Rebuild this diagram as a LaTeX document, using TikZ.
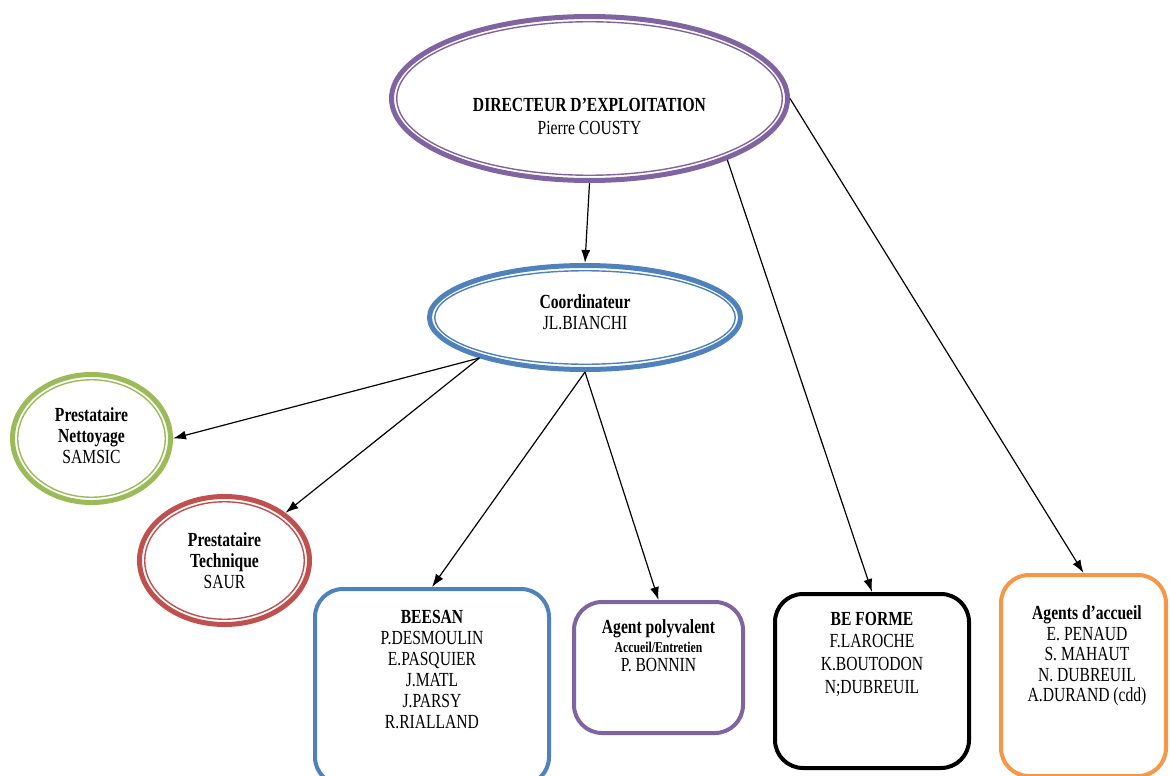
\documentclass[tikz,border=0pt]{standalone}
\usepackage{fontspec}
\setmainfont{Liberation Serif}[FakeStretch=0.78]
\usepackage{tikz}
\usetikzlibrary{arrows.meta, shapes.geometric}
\definecolor{orgpurple}{HTML}{8064A2}
\definecolor{orgblue}{HTML}{4F81BD}
\definecolor{orggreen}{HTML}{9BBB59}
\definecolor{orgred}{HTML}{C0504D}
\definecolor{orgorange}{HTML}{F79646}
\tikzset{
  oval/.style={ellipse, draw=#1, line width=5pt, inner sep=0pt},
  ovalin/.style={draw=#1, line width=1.4pt},
  team/.style={rectangle, rounded corners=28pt, draw=#1, line width=4pt, inner sep=0pt},
  txt/.style={align=center, inner sep=0pt, font=\fontsize{20}{21}\selectfont},
  link/.style={-{Latex[length=13pt,width=9pt]}, line width=1.2pt},
}

\begin{document}
\begin{tikzpicture}[x=1pt,y=-1pt]
\clip (0,0) rectangle (1170,776);
\fill[white] (0,0) rectangle (1170,776);
%\tikzstyle{ring}=[ellipse,double,draw=black]
\begin{scope}
    \node[oval=orgpurple, minimum width=396pt, minimum height=164pt] (dir) at (589.5,98.5) {};
    \node[oval=orgblue, minimum width=311pt, minimum height=104pt] (coord) at (585,317.5) {};
    \node[oval=orggreen, minimum width=158pt, minimum height=128pt] (net) at (91.5,438.5) {};
    \node[oval=orgred, minimum width=170pt, minimum height=128pt] (tec) at (224.5,560.5) {};
\end{scope}
\foreach \n/\c/\rx/\ry in {dir/orgpurple/192.75/76.75, coord/orgblue/150.25/46.75,
    net/orggreen/73.75/58.75, tec/orgred/79.75/58.75}
    \draw[ovalin=\c] (\n.center) ellipse [x radius=\rx pt, y radius=\ry pt];

\node[txt, font=\fontsize{20}{23}\selectfont] (dirtxt) at (589.5,116.5)
    {\textbf{DIRECTEUR D’EXPLOITATION}\\ Pierre COUSTY};
\node[txt] (coordtxt) at (585,312.5) {\textbf{Coordinateur}\\ JL.BIANCHI};
\node[txt] (nettxt) at (91.5,435.5) {\textbf{Prestataire}\\ \textbf{Nettoyage}\\ SAMSIC};
\node[txt] (tectxt) at (224.5,560.5) {\textbf{Prestataire}\\ \textbf{Technique}\\ SAUR};

\node[team=orgblue, minimum width=234pt, minimum height=196pt] (bee) at (432,687) {};
\node[team=orgpurple, minimum width=169pt, minimum height=131pt] (apv) at (658.5,667.5) {};
\node[team=black, minimum width=194pt, minimum height=174pt] (bef) at (872,681) {};
\node[team=orgorange, minimum width=165pt, minimum height=201pt] (ag) at (1083.5,675.5) {};

\node[txt] (beetxt) at (432,669.5)
    {\textbf{BEESAN}\\ P.DESMOULIN\\ E.PASQUIER\\ J.MATL\\ J.PARSY\\ R.RIALLAND};
\node[txt, font=\fontsize{20}{19}\selectfont] (apvtxt) at (658.5,646)
    {\textbf{Agent polyvalent}\\ {\fontsize{15}{17}\selectfont\textbf{Accueil/Entretien}}\\ P. BONNIN};
\node[txt, font=\fontsize{20}{22.7}\selectfont] (beftxt) at (872,654)
    {\textbf{BE FORME}\\ F.LAROCHE\\ K.BOUTODON\\ N;DUBREUIL};
\node[txt, font=\fontsize{20}{20.5}\selectfont] (agtxt) at (1087,656)
    {\textbf{Agents d’accueil}\\ E. PENAUD\\ S. MAHAUT\\ N. DUBREUIL\\ A.DURAND (cdd)};

\path [link] (dir.south) edge (coord.north);
\path [link] (dir.-24) edge (bef.north);
\path [link] (dir.east) edge (ag.north);
\path [link] (coord.201) edge (net.east);
\path [link] (coord.201) edge (tec.38);
\path [link] (coord.south) edge (bee.north);
\path [link] (coord.south) edge (apv.north);
\end{tikzpicture}
\end{document}
